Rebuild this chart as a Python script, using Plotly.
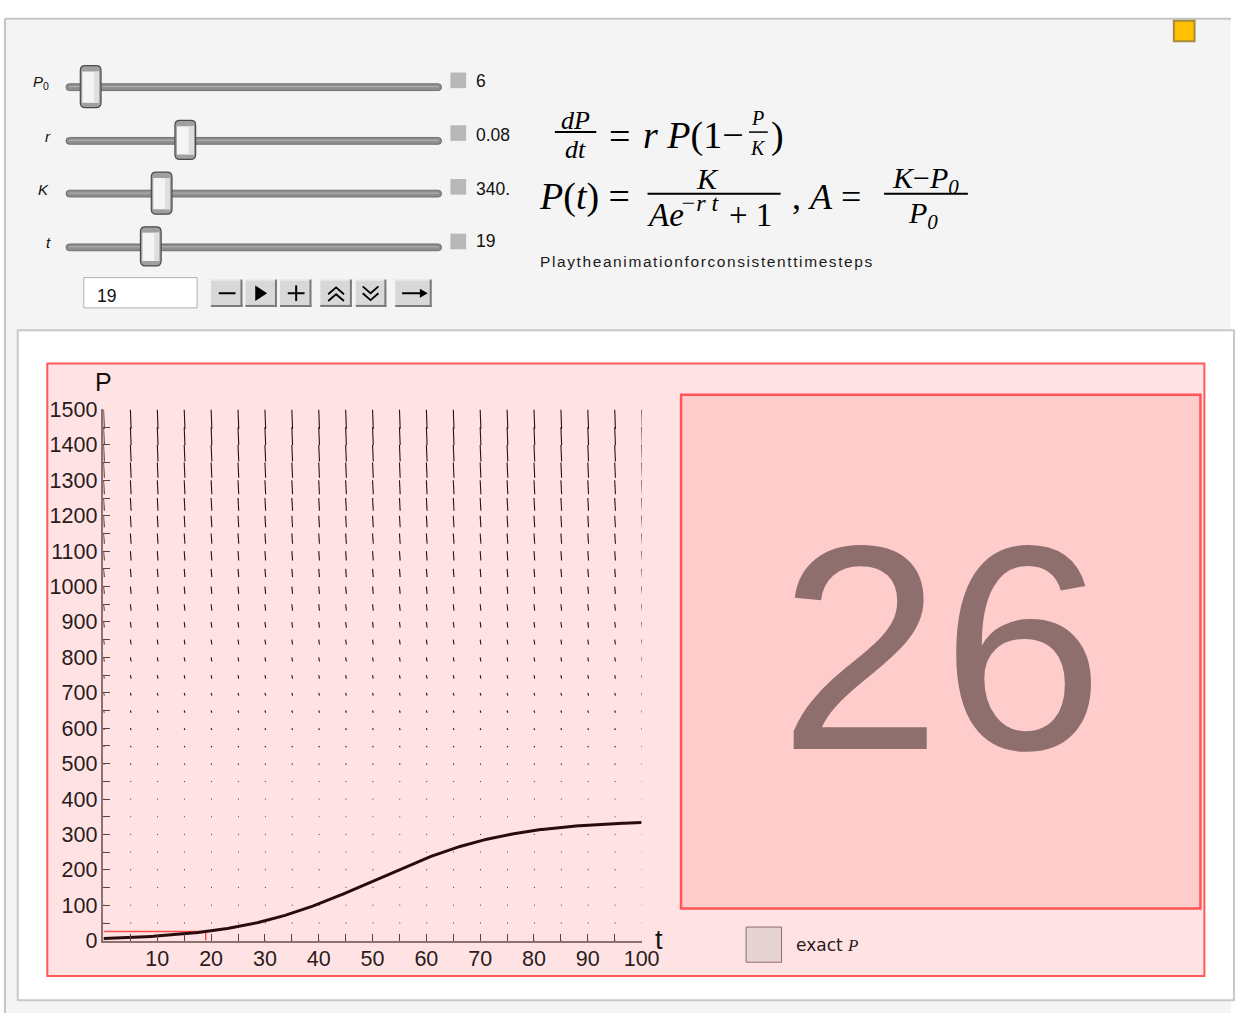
import numpy as np
import plotly.graph_objects as go

# ---------------- data ----------------
P0 = 6
r = 0.08
K = 340
t_now = 19

slider_names = ["<i>P</i><sub>0</sub>", "<i>r</i>", "<i>K</i>", "<i>t</i>"]
slider_texts = ["6", "0.08", "340.", "19"]

x_ticks = [10, 20, 30, 40, 50, 60, 70, 80, 90, 100]
x_minor = [5, 15, 25, 35, 45, 55, 65, 75, 85, 95]
y_ticks = list(range(0, 1501, 100))
y_minor = list(range(50, 1451, 100))

field_t = list(range(0, 101, 5))
field_P = list(range(0, 1501, 50))
field_scale = 0.134

# ---------------- helpers ----------------
W, H = 1249, 1026
SANS = "Liberation Sans, Arial, sans-serif"
SERIF = "Liberation Serif, Times New Roman, serif"


def X(px):
    return px / W


def Y(py):
    return 1 - py / H


shapes = []
annotations = []


def rect(x0, y0, x1, y1, fill, line=None, lw=1, layer="below"):
    shapes.append(dict(type="rect", xref="paper", yref="paper",
                       x0=X(x0), x1=X(x1), y0=Y(y1), y1=Y(y0),
                       fillcolor=fill,
                       line=dict(color=line if line else "rgba(0,0,0,0)", width=lw if line else 0),
                       layer=layer))


def seg(x0, y0, x1, y1, color, w=1, layer="above"):
    shapes.append(dict(type="line", xref="paper", yref="paper",
                       x0=X(x0), x1=X(x1), y0=Y(y0), y1=Y(y1),
                       line=dict(color=color, width=w), layer=layer))


def poly(pts, fill=None, line=None, lw=1, closed=True, layer="above"):
    d = "M" + " L".join(f"{X(a)},{Y(b)}" for a, b in pts)
    if closed:
        d += " Z"
    shapes.append(dict(type="path", xref="paper", yref="paper", path=d,
                       fillcolor=fill if fill else "rgba(0,0,0,0)",
                       line=dict(color=line if line else "rgba(0,0,0,0)", width=lw if line else 0),
                       layer=layer))


def rrect(x0, y0, x1, y1, rad, fill, line=None, lw=1, layer="above"):
    p = lambda a, b: f"{X(a)},{Y(b)}"
    d = (f"M{p(x0 + rad, y0)} L{p(x1 - rad, y0)} Q{p(x1, y0)} {p(x1, y0 + rad)} "
         f"L{p(x1, y1 - rad)} Q{p(x1, y1)} {p(x1 - rad, y1)} "
         f"L{p(x0 + rad, y1)} Q{p(x0, y1)} {p(x0, y1 - rad)} "
         f"L{p(x0, y0 + rad)} Q{p(x0, y0)} {p(x0 + rad, y0)} Z")
    shapes.append(dict(type="path", xref="paper", yref="paper", path=d,
                       fillcolor=fill,
                       line=dict(color=line if line else "rgba(0,0,0,0)", width=lw if line else 0),
                       layer=layer))


def ann(text, x, y, size, family=SANS, color="#000000", xanchor="left", yanchor="middle"):
    annotations.append(dict(text=text, x=X(x), y=Y(y), xref="paper", yref="paper",
                            showarrow=False, xanchor=xanchor, yanchor=yanchor,
                            font=dict(size=size, family=family, color=color)))


# ---------------- backgrounds ----------------
rect(6, 9, 1249, 1026, "#f4f4f4")
seg(5, 8, 1249, 8, "#c4c4c4", 2, layer="below")
seg(5, 8, 5, 1026, "#c4c4c4", 2, layer="below")
rect(18, 327, 1252, 1013, "#ffffff", "#c8c8c8", 2)
rect(48, 361, 1222, 988, "#ffe3e4", "#ff5a5a", 2)
rect(691, 393, 1218, 919, "#ffcccc", "#ff5555", 2.5)

# orange square
rect(1191, 10, 1212, 31, "#ffc000", "#a8893c", 2, layer="above")

# ---------------- sliders ----------------
track_y = [78, 133, 187, 242]
thumb_x = [92, 188, 164, 153]
thumb_y = [(56, 99), (112, 152), (165, 208), (221, 261)]
label_y = [73, 128, 183, 237]
label_x = [52, 54, 52, 54]
box_y = [71, 125, 180, 236]
for i in range(4):
    cy = track_y[i]
    rrect(67, cy - 3.5, 448, cy + 3.5, 3.5, "#8e8e8e", "#5e5e5e", 0.8)
    seg(70, cy - 0.5, 445, cy - 0.5, "#b4b4b4", 1)
    cx = thumb_x[i]
    ty0, ty1 = thumb_y[i]
    rrect(cx - 10.5, ty0, cx + 10.5, ty1, 5, "#a0a0a0", "#4a4a4a", 1.2)
    rect(cx - 8.5, ty0 + 6, cx + 8.5, ty1 - 5, "#f4f4f4", layer="above")
    rect(cx + 3.5, ty0 + 6, cx + 8.5, ty1 - 5, "#dedede", layer="above")
    ann(slider_names[i], label_x[i], label_y[i], 15, SANS, "#111111", xanchor="right")
    rect(457, box_y[i] - 8, 473, box_y[i] + 8, "#b8b8b8", layer="above")
    ann(slider_texts[i], 481, label_y[i] - 1, 17.5, SANS, "#111111")

# input field
rect(85, 273, 200, 304, "#ffffff", "#b0b0b0", 1, layer="above")
ann(str(t_now), 96, 292, 17.5, SANS, "#111111")

# buttons
buttons = [(214, 246), (249, 281), (284, 316), (325, 357), (361, 392), (401, 438)]
for bx0, bx1 in buttons:
    rect(bx0, 275, bx1, 303, "#d8d8d8", layer="above")
    seg(bx0, 275.5, bx1, 275.5, "#f2f2f2", 1)
    seg(bx0, 302, bx1, 302, "#7a7a7a", 2)
    seg(bx1 - 1, 275, bx1 - 1, 303, "#7a7a7a", 2)
seg(222, 289, 239, 289, "#000000", 2)
poly([(259, 281), (259, 297), (271, 289)], fill="#000000")
seg(292, 289, 309, 289, "#000000", 2)
seg(300.5, 281, 300.5, 297, "#000000", 2)
poly([(333, 290), (341, 283), (349, 290)], line="#000000", lw=1.8, closed=False)
poly([(333, 297), (341, 290), (349, 297)], line="#000000", lw=1.8, closed=False)
poly([(368, 282), (376, 289), (384, 282)], line="#000000", lw=1.8, closed=False)
poly([(368, 289), (376, 296), (384, 289)], line="#000000", lw=1.8, closed=False)
seg(408, 289, 428, 289, "#000000", 2)
poly([(426, 284.5), (434, 289), (426, 293.5)], fill="#000000")

# ---------------- formula ----------------
ann("<i>dP</i>", 584, 112, 26, SERIF, xanchor="center")
seg(563, 124, 605, 124, "#000000", 2)
ann("<i>dt</i>", 584, 142, 26, SERIF, xanchor="center")
ann("=", 616, 128, 38, SERIF)
ann("<i>r P</i>(1−", 650, 127, 38, SERIF)
ann("<i>P</i>", 769, 110, 20, SERIF, xanchor="center")
seg(760, 124, 779, 124, "#000000", 1.5)
ann("<i>K</i>", 769, 140, 20, SERIF, xanchor="center")
ann(")", 780, 127, 38, SERIF)

ann("<i>P</i>(<i>t</i>) =", 545, 190, 38, SERIF)
ann("<i>K</i>", 718, 172, 30, SERIF, xanchor="center")
seg(657, 187, 792, 187, "#000000", 2)
ann("<i>Ae</i>", 654, 209, 33, SERIF)
ann("<i>−r t</i>", 688, 197, 24, SERIF)
ann("+ 1", 738, 209, 33, SERIF)
ann(", <i>A</i> =", 802, 190, 36, SERIF)
ann("<i>K</i>−<i>P<sub>0</sub></i>", 939, 173, 30, SERIF, xanchor="center")
seg(897, 187, 982, 187, "#000000", 2)
ann("<i>P<sub>0</sub></i>", 937, 209, 30, SERIF, xanchor="center")

ann("<span style='letter-spacing:1.6px'>Playtheanimationforconsistenttimesteps</span>",
    546, 256, 15.5, SANS, "#1a1a1a")

# ---------------- plot values ----------------
A = (K - P0) / P0
P_now = K / (A * np.exp(-r * t_now) + 1)

ann(f"{P_now:.0f}", 955, 652, 292, SANS, "#8f6e6e", xanchor="center")

rect(757, 938, 793, 974, "#e7d3d3", "#8c6c6c", 1, layer="above")
ann("exact <span style='font-family:Liberation Serif'><i>P</i></span>", 806, 956, 17,
    "DejaVu Sans, sans-serif", "#2a1a1a")

ann("P", 105, 380, 25, SANS, "#1a0f0f", xanchor="center")
ann("t", 669, 951, 27, SANS, "#1a0f0f", xanchor="center")

# slope field segments
seg_x, seg_y = [], []
for tt in field_t:
    for pp in field_P:
        f = r * pp * (1 - pp / K)
        seg_x += [tt, tt + field_scale, None]
        seg_y += [pp, pp + field_scale * f, None]

t_curve = np.linspace(0, 100, 401)
P_curve = K / (A * np.exp(-r * t_curve) + 1)

fig = go.Figure()
fig.add_trace(go.Scatter(x=seg_x, y=seg_y, mode="lines",
                         line=dict(color="#2a1212", width=1.1), hoverinfo="skip"))
fig.add_trace(go.Scatter(x=[0, t_now, t_now], y=[P_now, P_now, 0], mode="lines",
                         line=dict(color="#ff4d4d", width=1.5), hoverinfo="skip"))
fig.add_trace(go.Scatter(x=t_curve, y=P_curve, mode="lines",
                         line=dict(color="#2b0c0c", width=3), hoverinfo="skip"))

axis_common = dict(showgrid=False, zeroline=False, showline=True,
                   linecolor="#8b7272", linewidth=1.5, ticks="inside", ticklen=7,
                   tickcolor="#5a4040", tickwidth=1,
                   tickfont=dict(size=21.5, family=SANS, color="#2b1b1b"))

fig.update_layout(
    width=W, height=H, autosize=False,
    margin=dict(l=0, r=0, t=0, b=0),
    paper_bgcolor="#ffffff", plot_bgcolor="rgba(0,0,0,0)",
    showlegend=False,
    xaxis=dict(domain=[X(105), X(651)], range=[0, 100], tickmode="array",
               tickvals=x_ticks, ticktext=[str(v) for v in x_ticks],
               minor=dict(tickvals=x_minor, ticks="inside", ticklen=7, tickcolor="#5a4040"),
               ticklabelstandoff=-2,
               **axis_common),
    yaxis=dict(domain=[Y(952), Y(408)], range=[0, 1500], tickmode="array",
               tickvals=y_ticks, ticktext=[str(v) for v in y_ticks],
               minor=dict(tickvals=y_minor, ticks="inside", ticklen=7, tickcolor="#5a4040"),
               ticklabelstandoff=0,
               **axis_common),
    shapes=shapes,
    annotations=annotations,
)

fit_script = """
var gd = document.getElementById('{plot_id}');
var de = document.documentElement, b = document.body;
de.style.margin = '0'; de.style.padding = '0'; de.style.overflow = 'hidden';
b.style.margin = '0'; b.style.padding = '0'; b.style.overflow = 'hidden';
gd.style.position = 'fixed'; gd.style.left = '0px'; gd.style.top = '0px';
var w = window.innerWidth, h = window.innerHeight;
if (w > 200 && h > 200 && (w !== 1249 || h !== 1026)) {
  gd.style.width = w + 'px'; gd.style.height = h + 'px';
  Plotly.relayout(gd, {width: w, height: h});
}
"""

fig.write_html("out.html", config={"displayModeBar": False}, post_script=fit_script)
